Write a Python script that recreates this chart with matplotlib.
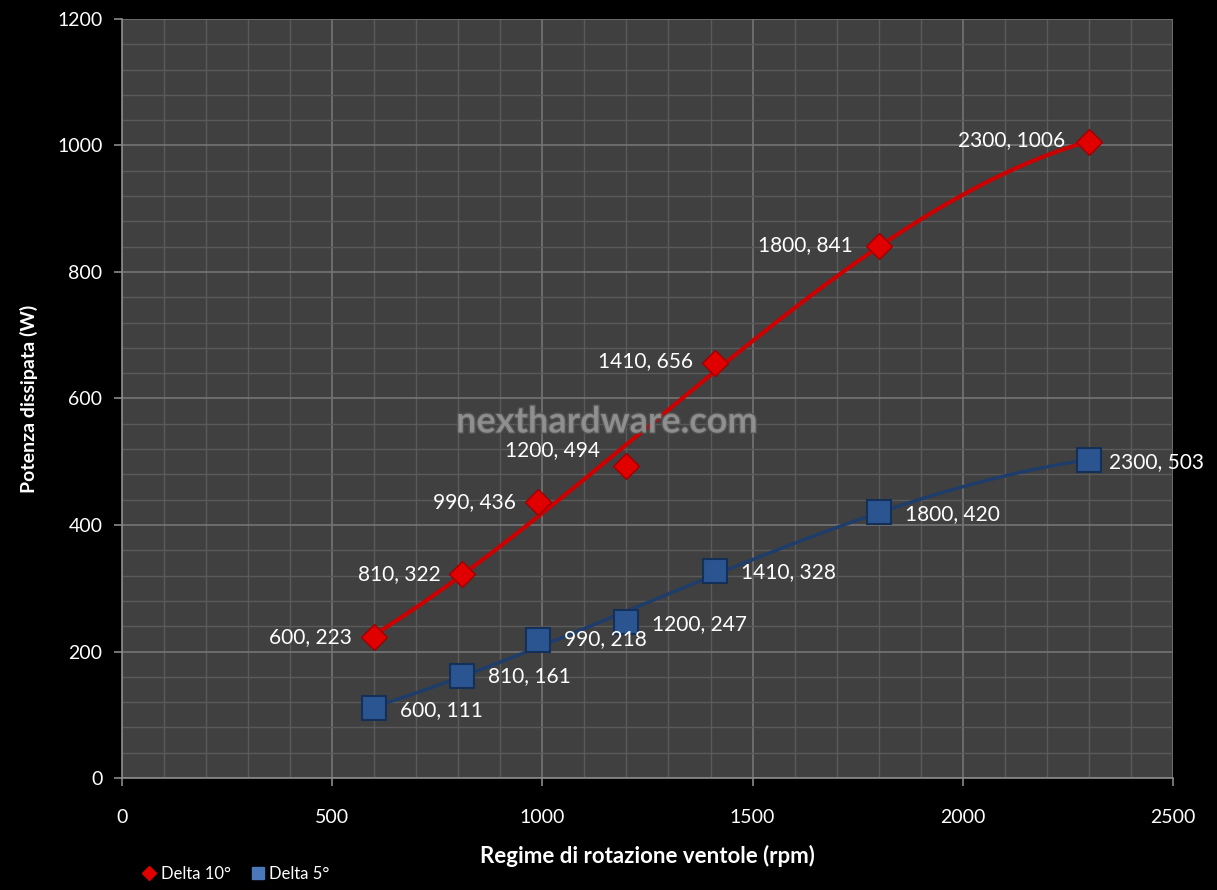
import numpy as np
import matplotlib
matplotlib.use('Agg')
import matplotlib.pyplot as plt
from matplotlib.ticker import MultipleLocator
import matplotlib.patheffects as pe

# dati
rpm = [600, 810, 990, 1200, 1410, 1800, 2300]
delta10 = [223, 322, 436, 494, 656, 841, 1006]
delta5 = [111, 161, 218, 247, 328, 420, 503]

# offset (pixel) delle etichette
off10 = [(-22, 0), (-22, 0), (-22, 0), (-26, 15), (-22, 2), (-26, 1), (-24, 2)]
off5 = [(26, -2), (26, 0), (26, 1), (26, -2), (26, -2), (26, -2), (20, -2)]

plt.rcParams['font.family'] = ['Lato', 'DejaVu Sans']

fig = plt.figure(figsize=(12.17, 8.90), dpi=100, facecolor='black')
ax = fig.add_axes([0.1002, 0.1258, 0.8636, 0.8529])
ax.set_facecolor('#404040')

ax.set_xlim(0, 2500)
ax.set_ylim(0, 1200)
ax.xaxis.set_major_locator(MultipleLocator(500))
ax.xaxis.set_minor_locator(MultipleLocator(100))
ax.yaxis.set_major_locator(MultipleLocator(200))
ax.yaxis.set_minor_locator(MultipleLocator(40))
ax.grid(which='major', color='#747474', lw=1.2)
ax.grid(which='minor', color='#5a5a5a', lw=1.0)
ax.set_axisbelow(True)

for s in ['top', 'right']:
    ax.spines[s].set_visible(False)
for s in ['left', 'bottom']:
    ax.spines[s].set_color('#8a8a8a')
    ax.spines[s].set_linewidth(1.2)

ax.tick_params(which='major', colors='#8a8a8a', length=6, width=1.2,
               labelcolor='white', labelsize=14, pad=8)
ax.tick_params(which='minor', length=0)
ax.tick_params(axis='x', pad=16)

# linee di tendenza (polinomio di 3° grado)
xs = np.linspace(rpm[0], rpm[-1], 200)
ax.plot(xs, np.polyval(np.polyfit(rpm, delta10, 3), xs),
        color='#cc0000', lw=3, zorder=3)
ax.plot(xs, np.polyval(np.polyfit(rpm, delta5, 3), xs),
        color='#1e3d6b', lw=2.5, zorder=3)

ax.plot(rpm, delta10, ls='none', marker='D', ms=13, color='#e00000',
        mec='#a00000', mew=1, zorder=4)
ax.plot(rpm, delta5, ls='none', marker='s', ms=17, color='#2a5591',
        mec='#143058', mew=1.5, zorder=4)

for x, y, o in zip(rpm, delta10, off10):
    ax.annotate(f'{x}, {y}', (x, y), xytext=o, textcoords='offset pixels',
                ha='right', va='center', color='white', fontsize=15, zorder=5)
for x, y, o in zip(rpm, delta5, off5):
    ax.annotate(f'{x}, {y}', (x, y), xytext=o, textcoords='offset pixels',
                ha='left', va='center', color='white', fontsize=15, zorder=5)

# watermark
ax.text(0.4615, 0.469, 'nexthardware.com', transform=ax.transAxes,
        ha='center', va='center', fontsize=26, fontweight='bold',
        color='#949494', alpha=0.85, zorder=6,
        path_effects=[pe.withStroke(linewidth=2, foreground='#555555')])

ax.set_xlabel('Regime di rotazione ventole (rpm)', color='white',
              fontsize=16, fontweight='bold', labelpad=14)
ax.set_ylabel('Potenza dissipata (W)', color='white',
              fontsize=14, fontweight='bold', labelpad=14)

# legenda in basso a sinistra
h1, = ax.plot([], [], ls='none', marker='D', ms=7, color='#e00000')
h2, = ax.plot([], [], ls='none', marker='s', ms=8, color='#4a78b8')
leg = fig.legend([h1, h2], ['Delta 10°', 'Delta 5°'], loc='lower left',
                 bbox_to_anchor=(0.105, -0.008), ncol=2, frameon=False,
                 fontsize=12, handlelength=0.8, handletextpad=0.3,
                 columnspacing=1.2)
for t in leg.get_texts():
    t.set_color('white')

fig.savefig('out.png', dpi=100, facecolor='black')
